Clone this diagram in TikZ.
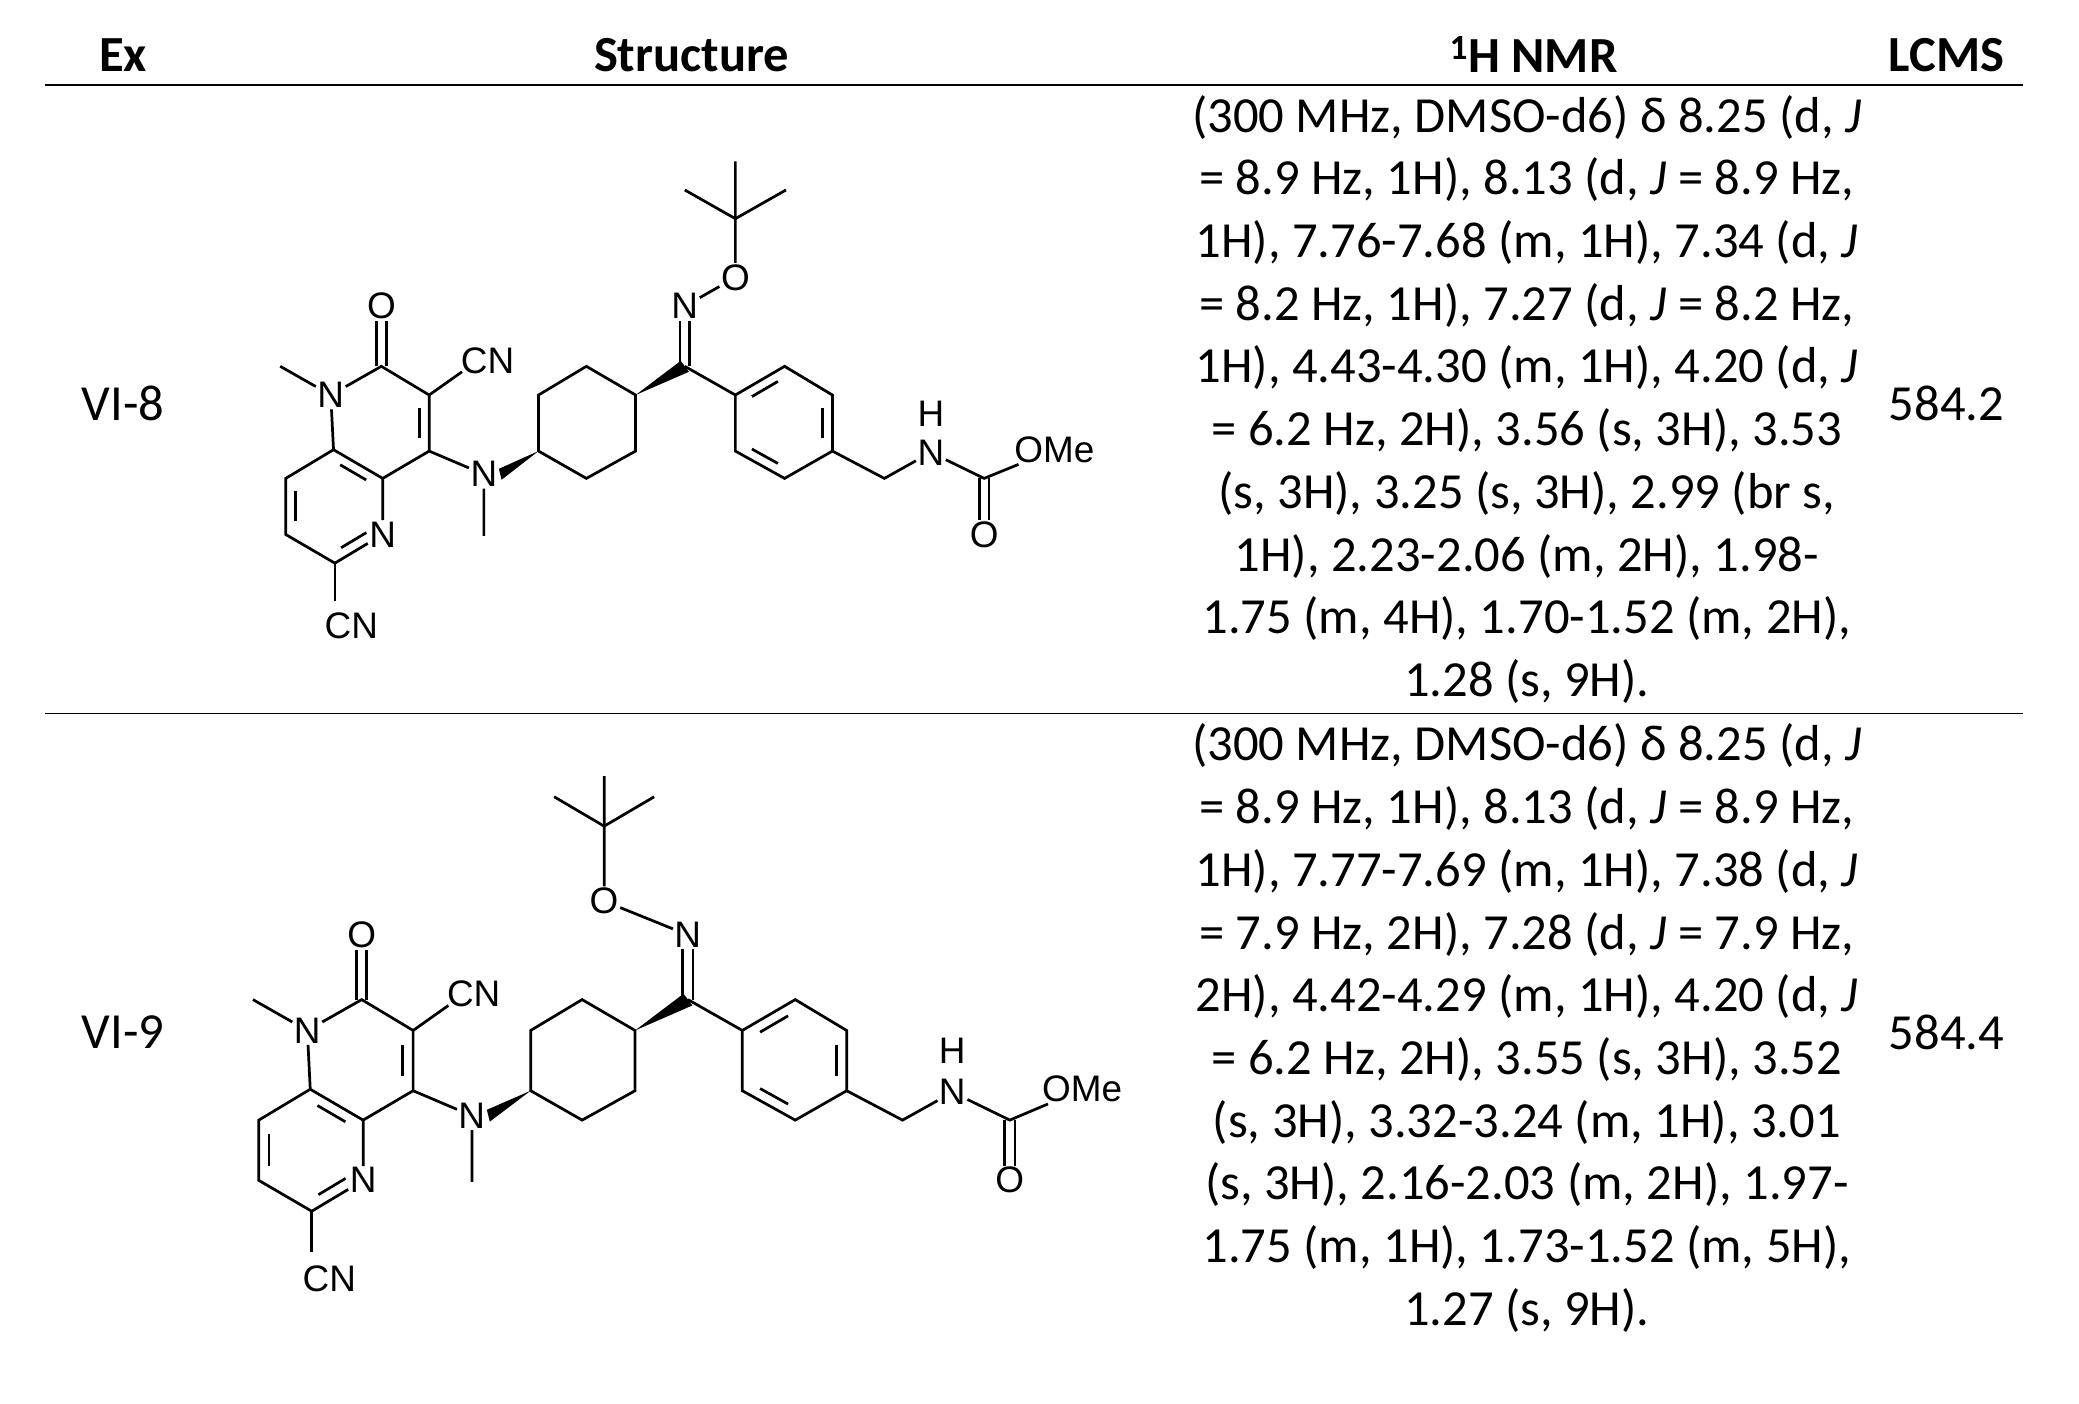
\documentclass[tikz,border=0pt]{standalone}
\usepackage{fontspec}
\setmainfont{Carlito}
\newfontfamily\molfont{Liberation Sans}
\usetikzlibrary{calc}
\tikzset{
  bond/.style={line width=2pt},
  atm/.style={font=\molfont\fontsize{27}{27}\selectfont, inner sep=1pt},
  hdr/.style={font=\bfseries\fontsize{37}{40}\selectfont},
  cell/.style={font=\fontsize{37}{40}\selectfont},
  nmr/.style={font=\fontsize{37}{45.9}\selectfont, align=center, anchor=north},
  rule/.style={line width=1.3pt}
}
\newcommand\ibond[3]{\draw[bond] ($($(#1)!.17!(#2)$)!.2!(#3)$) -- ($($(#1)!.83!(#2)$)!.2!(#3)$);}
\newcommand\mol[1]{%
  \coordinate (m1) at (205,268);
  \node[atm] (N1) at (242,289) {N};
  \coordinate (C2) at (279,268);
  \node[atm] (O2) at (279,224) {O};
  \coordinate (C3) at (314,289);
  \coordinate (cnb) at (338,272);
  \node[atm,anchor=west] (CNa) at (336,264) {CN};
  \coordinate (C4) at (314,330);
  \coordinate (C4a) at (280,350);
  \node[atm] (N5) at (280,391) {N};
  \coordinate (C6) at (245,412);
  \coordinate (cnc) at (245,440);
  \node[atm] (CNb) at (257,458) {CN};
  \coordinate (C7) at (209,391);
  \coordinate (C8) at (209,350);
  \coordinate (C8a) at (244,329);
  \coordinate (ctrA) at (279,309);
  \coordinate (ctrB) at (244,370);
  \node[atm] (Na) at (354,347) {N};
  \coordinate (Me) at (354,392);
  \coordinate (R1) at (394,330);
  \coordinate (R2) at (394,289);
  \coordinate (R3) at (429,268);
  \coordinate (R4) at (465,289);
  \coordinate (R5) at (465,330);
  \coordinate (R6) at (429,350);
  \coordinate (Cox) at (501,268);
  \coordinate (B1) at (538,289);
  \coordinate (B2) at (574,268);
  \coordinate (B3) at (609,289);
  \coordinate (B4) at (609,330);
  \coordinate (B5) at (574,350);
  \coordinate (B6) at (538,330);
  \coordinate (ctrC) at (574,309);
  \coordinate (CH2) at (647,350);
  \node[atm] (NH) at (681,331) {N};
  \node[atm] (H) at (681,303) {H};
  \coordinate (Cc) at (720,350);
  \node[atm] (Oc) at (720,391) {O};
  \node[atm,anchor=west] (OMe) at (741,329) {OMe};
  \draw[bond] (m1)--(N1)--(C2)--(C3)--(C4)--(C4a)--(C8a)--(N1);
  \draw[bond] (C3)--(cnb);
  \draw[bond] ([xshift=-3.5pt]C2)--([xshift=-3.5pt]O2.south);
  \draw[bond] ([xshift=3.5pt]C2)--([xshift=3.5pt]O2.south);
  \ibond{C3}{C4}{ctrA}
  \draw[bond] (C4a)--(N5)--(C6)--(C7)--(C8)--(C8a);
  \ibond{C4a}{C8a}{ctrB}
  \ibond{N5}{C6}{ctrB}
  \ibond{C7}{C8}{ctrB}
  \draw[bond] (C6)--(cnc);
  \draw[bond] (C4)--(Na)--(Me);
  \fill (R1) -- ($(Na.east)+(0,-4)$) -- ($(Na.east)+(2,4)$) -- cycle;
  \draw[bond] (R1)--(R2)--(R3)--(R4)--(R5)--(R6)--cycle;
  \fill (R4) -- ($(Cox)+(-3,-4)$) -- ($(Cox)+(3,4)$) -- cycle;
  \draw[bond] (Cox)--(B1);
  \draw[bond] (B1)--(B2)--(B3)--(B4)--(B5)--(B6)--cycle;
  \ibond{B1}{B2}{ctrC}
  \ibond{B3}{B4}{ctrC}
  \ibond{B5}{B6}{ctrC}
  \draw[bond] (B4)--(CH2)--(NH)--(Cc)--(OMe);
  \draw[bond] ([xshift=-3.5pt]Cc)--([xshift=-3.5pt]Oc.north);
  \draw[bond] ([xshift=3.5pt]Cc)--([xshift=3.5pt]Oc.north);
  #1
}
\begin{document}
\begin{tikzpicture}[x=1pt,y=-1pt]
\useasboundingbox (0,0) rectangle (1521,1027);
\node[hdr] (hEx) at (90,40) {Ex};
\node[hdr] (hSt) at (506,40) {Structure};
\node[hdr] (hNMR) at (1122,40) {\textsuperscript{1}H NMR};
\node[hdr] (hLC) at (1424,40) {LCMS};
\draw[rule] (33,62) -- (1480,62);
\draw[rule] (33,522) -- (1480,522);
\node[cell] (ex1) at (90,295) {VI-8};
\node[cell] (lc1) at (1424,295) {584.2};
\node[cell] (ex2) at (90,755) {VI-9};
\node[cell] (lc2) at (1424,755) {584.4};
\node[nmr] (nmr1) at (1117,66) {(300 MHz, DMSO-d6) δ 8.25 (d, \textit{J}\\
= 8.9 Hz, 1H), 8.13 (d, \textit{J} = 8.9 Hz,\\
1H), 7.76-7.68 (m, 1H), 7.34 (d, \textit{J}\\
= 8.2 Hz, 1H), 7.27 (d, \textit{J} = 8.2 Hz,\\
1H), 4.43-4.30 (m, 1H), 4.20 (d, \textit{J}\\
= 6.2 Hz, 2H), 3.56 (s, 3H), 3.53\\
(s, 3H), 3.25 (s, 3H), 2.99 (br s,\\
1H), 2.23-2.06 (m, 2H), 1.98-\\
1.75 (m, 4H), 1.70-1.52 (m, 2H),\\
1.28 (s, 9H).};
\node[nmr] (nmr2) at (1117,526) {(300 MHz, DMSO-d6) δ 8.25 (d, \textit{J}\\
= 8.9 Hz, 1H), 8.13 (d, \textit{J} = 8.9 Hz,\\
1H), 7.77-7.69 (m, 1H), 7.38 (d, \textit{J}\\
= 7.9 Hz, 2H), 7.28 (d, \textit{J} = 7.9 Hz,\\
2H), 4.42-4.29 (m, 1H), 4.20 (d, \textit{J}\\
= 6.2 Hz, 2H), 3.55 (s, 3H), 3.52\\
(s, 3H), 3.32-3.24 (m, 1H), 3.01\\
(s, 3H), 2.16-2.03 (m, 2H), 1.97-\\
1.75 (m, 1H), 1.73-1.52 (m, 5H),\\
1.27 (s, 9H).};
\begin{scope}
\mol{%
  \node[atm] (Nox) at (501,224) {N};
  \node[atm] (Oox) at (538,203) {O};
  \coordinate (Ct) at (538,160);
  \coordinate (t1) at (538,118);
  \coordinate (t2) at (501,139);
  \coordinate (t3) at (575,139);
  \draw[bond] ([xshift=-3.5pt]Cox)--([xshift=-3.5pt]Nox.south);
  \draw[bond] ([xshift=3.5pt]Cox)--([xshift=3.5pt]Nox.south);
  \draw[bond] (Nox)--(Oox)--(Ct)--(t1);
  \draw[bond] (t2)--(Ct)--(t3);
}
\end{scope}
\begin{scope}[shift={(185,570)}, scale=1.075, shift={(-205,-118)}]
\mol{%
  \node[atm] (Nox) at (501,224) {N};
  \node[atm] (Oox) at (444,201) {O};
  \coordinate (Ct) at (444,150);
  \coordinate (t1) at (444,116);
  \coordinate (t2) at (410,130);
  \coordinate (t3) at (478,130);
  \draw[bond] ([xshift=-3.5pt]Cox)--([xshift=-3.5pt]Nox.south);
  \draw[bond] ([xshift=3.5pt]Cox)--([xshift=3.5pt]Nox.south);
  \draw[bond] (Nox)--(Oox)--(Ct)--(t1);
  \draw[bond] (t2)--(Ct)--(t3);
}
\end{scope}
\end{tikzpicture}
\end{document}
